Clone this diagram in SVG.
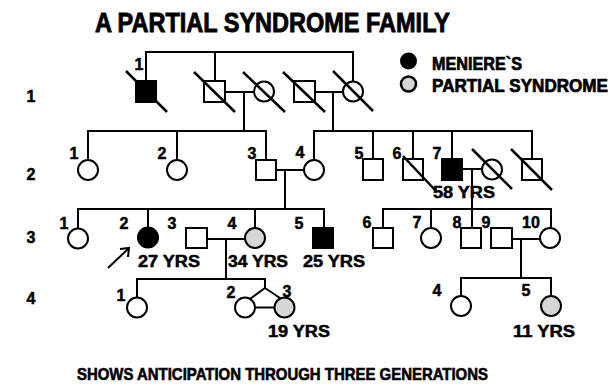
<svg xmlns="http://www.w3.org/2000/svg" width="616" height="389" viewBox="0 0 616 389">
<style>
text{font-family:"Liberation Sans",Arial,sans-serif;font-weight:bold;fill:#000;stroke:#000;stroke-width:0.5}
.t{font-size:28px;stroke-width:0.9}
.lg{font-size:18px;stroke-width:0.7}
.n{font-size:16px;text-anchor:middle}
.a{font-size:16px}
.b{font-size:17px;stroke-width:0.6}
.s{fill:#fff;stroke:#000;stroke-width:2}
.f{fill:#000;stroke:#000;stroke-width:2}
.p{fill:#d6d6d6;stroke:#000;stroke-width:2}
.d{stroke:#000;stroke-width:2.5;fill:none}
.c line,.c polyline{stroke:#000;stroke-width:2;fill:none}
</style>
<rect width="616" height="389" fill="#fff"/>
<text class="t" x="95" y="32" textLength="355" lengthAdjust="spacingAndGlyphs">A PARTIAL SYNDROME FAMILY</text>
<g id="legend">
<circle class="f" cx="408.5" cy="61" r="7.5"/>
<text class="lg" x="432" y="70" textLength="90" lengthAdjust="spacingAndGlyphs">MENIERE`S</text>
<circle class="p" cx="408.5" cy="84" r="7.5" style="stroke-width:2.5"/>
<text class="lg" x="432" y="92" textLength="176" lengthAdjust="spacingAndGlyphs">PARTIAL SYNDROME</text>
</g>
<g id="gen-labels">
<text class="n" x="31" y="102">1</text>
<text class="n" x="31" y="180">2</text>
<text class="n" x="31" y="243">3</text>
<text class="n" x="31" y="304">4</text>
</g>
<g id="connectors" class="c">
<polyline points="146,81 146,52 353,52 353,81"/>
<line x1="215" y1="52" x2="215" y2="81"/>
<line x1="225" y1="92" x2="254" y2="92"/>
<line x1="244" y1="92" x2="244" y2="131"/>
<line x1="315" y1="92" x2="343" y2="92"/>
<line x1="333" y1="92" x2="333" y2="131"/>
<polyline points="88,160 88,131 266,131 266,160"/>
<line x1="177" y1="131" x2="177" y2="160"/>
<polyline points="314,160 314,131 532,131 532,159"/>
<line x1="373" y1="131" x2="373" y2="159"/>
<line x1="413" y1="131" x2="413" y2="159"/>
<line x1="452" y1="131" x2="452" y2="159"/>
<line x1="276" y1="170" x2="304" y2="170"/>
<line x1="285" y1="170" x2="285" y2="209"/>
<line x1="462" y1="169" x2="482" y2="169"/>
<line x1="472" y1="169" x2="472" y2="228"/>
<polyline points="78,228 78,209 324,209 324,228"/>
<line x1="148" y1="209" x2="148" y2="227"/>
<line x1="255" y1="209" x2="255" y2="228"/>
<polyline points="383,228 383,209 551,209 551,228"/>
<line x1="431" y1="209" x2="431" y2="228"/>
<line x1="207" y1="239" x2="245" y2="239"/>
<line x1="226" y1="239" x2="226" y2="279"/>
<line x1="512" y1="239" x2="540" y2="239"/>
<line x1="521" y1="239" x2="521" y2="278"/>
<polyline points="137,297 137,279 265,279 265,288"/>
<line x1="265" y1="288" x2="250" y2="299"/>
<line x1="265" y1="288" x2="280" y2="298"/>
<line x1="255" y1="307.5" x2="274" y2="307.5"/>
<polyline points="461,296 461,278 551,278 551,296"/>
<line x1="108" y1="268" x2="128" y2="249"/>
<polyline points="120,249 129,248 128,257"/>
</g>
<g id="I-1"><rect class="f" x="136" y="81" width="20" height="21"/><line class="d" x1="126" y1="71" x2="167" y2="112"/><text class="n" x="139" y="70">1</text></g>
<g id="I-2"><rect class="s" x="204" y="81" width="21" height="21"/><line class="d" x1="194" y1="72" x2="235" y2="112"/></g>
<g id="I-3"><circle class="s" cx="264" cy="91.5" r="10"/><line class="d" x1="243" y1="72" x2="285" y2="112"/></g>
<g id="I-4"><rect class="s" x="294" y="81" width="21" height="21"/><line class="d" x1="283" y1="72" x2="325" y2="112"/></g>
<g id="I-5"><circle class="s" cx="353" cy="91.5" r="10"/><line class="d" x1="333" y1="71" x2="373" y2="111"/></g>
<g id="II-1"><circle class="s" cx="88" cy="170" r="10"/><text class="n" x="74" y="159">1</text></g>
<g id="II-2"><circle class="s" cx="177" cy="170" r="10"/><text class="n" x="162" y="159">2</text></g>
<g id="II-3"><rect class="s" x="256" y="160" width="20" height="20"/><text class="n" x="252" y="159">3</text></g>
<g id="II-4"><circle class="s" cx="314" cy="170" r="10"/><text class="n" x="300" y="158">4</text></g>
<g id="II-5"><rect class="s" x="363" y="159" width="20" height="21"/><text class="n" x="359" y="159">5</text></g>
<g id="II-6"><rect class="s" x="403" y="159" width="20" height="21"/><line class="d" x1="403" y1="156" x2="435" y2="190"/><text class="n" x="397" y="159">6</text></g>
<g id="II-7"><rect class="f" x="442" y="159" width="20" height="21"/><text class="n" x="437" y="159">7</text><text class="a" x="433" y="198" textLength="62" lengthAdjust="spacingAndGlyphs">58 YRS</text></g>
<g id="II-8"><circle class="s" cx="492" cy="169.5" r="10"/><line class="d" x1="472" y1="149" x2="512" y2="189"/></g>
<g id="II-9"><rect class="s" x="522" y="159" width="20" height="21"/><line class="d" x1="511" y1="149" x2="552" y2="190"/></g>
<g id="III-1"><circle class="s" cx="78" cy="238.5" r="10"/><text class="n" x="64" y="229">1</text></g>
<g id="III-2"><circle class="f" cx="148" cy="237.5" r="10"/><text class="n" x="124" y="229">2</text><text class="a" x="138" y="267" textLength="62" lengthAdjust="spacingAndGlyphs">27 YRS</text></g>
<g id="III-3"><rect class="s" x="186" y="228" width="21" height="20"/><text class="n" x="172" y="229">3</text></g>
<g id="III-4"><circle class="p" cx="255" cy="238" r="10"/><text class="n" x="232" y="229">4</text><text class="a" x="228" y="267" textLength="60" lengthAdjust="spacingAndGlyphs">34 YRS</text></g>
<g id="III-5"><rect class="f" x="313" y="228" width="20" height="20"/><text class="n" x="299" y="229">5</text><text class="a" x="303" y="267" textLength="62" lengthAdjust="spacingAndGlyphs">25 YRS</text></g>
<g id="III-6"><rect class="s" x="373" y="228" width="20" height="20"/><text class="n" x="367" y="228">6</text></g>
<g id="III-7"><circle class="s" cx="431" cy="238" r="10"/><text class="n" x="417" y="228">7</text></g>
<g id="III-8"><rect class="s" x="461" y="228" width="20" height="20"/><text class="n" x="457" y="228">8</text></g>
<g id="III-9"><rect class="s" x="491" y="228" width="21" height="20"/><text class="n" x="486" y="228">9</text></g>
<g id="III-10"><circle class="s" cx="550" cy="238" r="10"/><text class="n" x="531" y="228">10</text></g>
<g id="IV-1"><circle class="s" cx="137" cy="307.5" r="10"/><text class="n" x="121" y="301">1</text></g>
<g id="IV-2"><circle class="s" cx="245" cy="307.5" r="10"/><text class="n" x="231" y="298">2</text></g>
<g id="IV-3"><circle class="p" cx="284.5" cy="307.5" r="10"/><text class="n" x="287" y="297">3</text><text class="a" x="268" y="337" textLength="62" lengthAdjust="spacingAndGlyphs">19 YRS</text></g>
<g id="IV-4"><circle class="s" cx="461" cy="306" r="10"/><text class="n" x="437" y="296">4</text></g>
<g id="IV-5"><circle class="p" cx="551" cy="306" r="10"/><text class="n" x="526" y="296">5</text><text class="a" x="513" y="337" textLength="62" lengthAdjust="spacingAndGlyphs">11 YRS</text></g>
<text class="b" x="77" y="380" textLength="411" lengthAdjust="spacingAndGlyphs">SHOWS ANTICIPATION THROUGH THREE GENERATIONS</text>
</svg>
